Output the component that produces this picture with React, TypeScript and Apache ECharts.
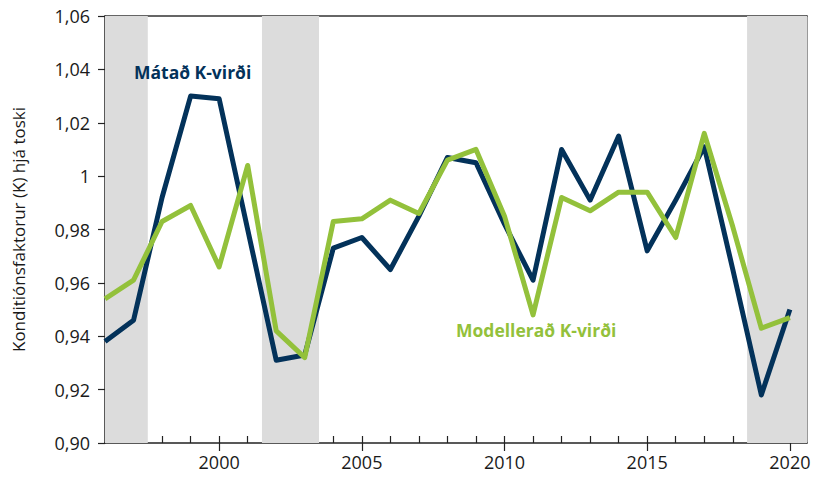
import React, { useEffect, useRef } from "react";
import * as echarts from "echarts";

const years = [1996, 1997, 1998, 1999, 2000, 2001, 2002, 2003, 2004, 2005, 2006, 2007, 2008, 2009, 2010, 2011, 2012, 2013, 2014, 2015, 2016, 2017, 2018, 2019, 2020];
const matad = [0.938, 0.946, 0.992, 1.030, 1.029, 0.980, 0.931, 0.933, 0.973, 0.977, 0.965, 0.985, 1.007, 1.005, 0.982, 0.961, 1.010, 0.991, 1.015, 0.972, 0.991, 1.011, 0.965, 0.918, 0.950];
const modellerad = [0.954, 0.961, 0.983, 0.989, 0.966, 1.004, 0.942, 0.932, 0.983, 0.984, 0.991, 0.986, 1.006, 1.010, 0.985, 0.948, 0.992, 0.987, 0.994, 0.994, 0.977, 1.016, 0.981, 0.943, 0.947];
const majorYears = [2000, 2005, 2010, 2015, 2020];
const minorYears = years.slice(1);
const shadedPeriods: [number, number][] = [[1996, 1997.5], [2001.5, 2003.5], [2018.5, 2020.6]];
const xMin = 1996;
const xMax = 2020.6;
const yMin = 0.9;
const yMax = 1.06;
const yStep = 0.02;

const NAVY = "#03325a";
const GREEN = "#93c13b";
const FONT = "'Open Sans', sans-serif";

export default function App() {
  const ref = useRef<HTMLDivElement>(null);
  useEffect(() => {
    if (!ref.current) return;
    const chart = echarts.init(ref.current, undefined, { renderer: "svg" });
    const fmtY = (v: number) => (Math.abs(v - 1) < 1e-9 ? "1" : v.toFixed(2).replace(".", ","));
    chart.setOption({
      animation: false,
      backgroundColor: "#ffffff",
      grid: { left: 105, right: 12, top: 16, bottom: 38, containLabel: false },
      xAxis: [
        {
          type: "value",
          min: xMin,
          max: xMax,
          position: "bottom",
          splitLine: { show: false },
          axisLine: { show: true, lineStyle: { color: "#222", width: 1.5 } },
          axisTick: { show: true, inside: true, length: 7, customValues: minorYears, lineStyle: { color: "#222", width: 1.2 } },
          axisLabel: { show: false },
        },
        {
          type: "value",
          min: xMin,
          max: xMax,
          position: "bottom",
          splitLine: { show: false },
          axisLine: { show: false },
          axisTick: { show: true, inside: false, length: 8, customValues: majorYears, lineStyle: { color: "#222", width: 1.2 } },
          axisLabel: {
            show: true,
            customValues: majorYears,
            formatter: (v: number) => String(v),
            color: "#1a1a1a",
            fontFamily: FONT,
            fontSize: 18,
            margin: 10,
          },
        },
        {
          type: "value",
          min: xMin,
          max: xMax,
          position: "top",
          splitLine: { show: false },
          axisLine: { show: true, lineStyle: { color: "#333", width: 1.5 } },
          axisTick: { show: false },
          axisLabel: { show: false },
        },
      ],
      yAxis: [
        {
          type: "value",
          min: yMin,
          max: yMax,
          interval: yStep,
          splitLine: { show: false },
          axisLine: { show: true, lineStyle: { color: "#222", width: 1.5 } },
          axisTick: { show: true, inside: false, length: 7, lineStyle: { color: "#222", width: 1.2 } },
          axisLabel: { formatter: fmtY, color: "#1a1a1a", fontFamily: FONT, fontSize: 18, margin: 15 },
          name: "Konditiónsfaktorur (K) hjá toski",
          nameLocation: "middle",
          nameGap: 78,
          nameTextStyle: { color: "#1a1a1a", fontFamily: FONT, fontSize: 17 },
        },
        {
          type: "value",
          min: yMin,
          max: yMax,
          interval: yStep,
          position: "right",
          splitLine: { show: false },
          axisLine: { show: true, lineStyle: { color: "#777", width: 1.5 } },
          axisTick: { show: false },
          axisLabel: { show: false },
        },
      ],
      series: [
        {
          name: "Mátað K-virði",
          type: "line",
          xAxisIndex: 0,
          yAxisIndex: 0,
          data: years.map((y, i) => [y, matad[i]]),
          showSymbol: false,
          symbol: "none",
          lineStyle: { color: NAVY, width: 5, join: "round", cap: "butt" },
          z: 3,
          markArea: {
            silent: true,
            itemStyle: { color: "#dcdcdc" },
            data: shadedPeriods.map(([a, b]) => [{ xAxis: a }, { xAxis: b }]),
          },
        },
        {
          name: "Modellerað K-virði",
          type: "line",
          xAxisIndex: 0,
          yAxisIndex: 0,
          data: years.map((y, i) => [y, modellerad[i]]),
          showSymbol: false,
          symbol: "none",
          lineStyle: { color: GREEN, width: 5, join: "round", cap: "butt" },
          z: 4,
        },
      ],
      graphic: [
        {
          type: "text",
          left: 134,
          top: 63,
          style: { text: "Mátað K-virði", fill: NAVY, font: `bold 17.5px ${FONT}` },
          z: 10,
        },
        {
          type: "text",
          left: 456,
          top: 321,
          style: { text: "Modellerað K-virði", fill: GREEN, font: `bold 17.5px ${FONT}` },
          z: 10,
        },
      ],
    });
    return () => chart.dispose();
  }, []);
  return <div ref={ref} style={{ position: "fixed", left: 0, top: 0, width: 819, height: 481 }} />;
}
